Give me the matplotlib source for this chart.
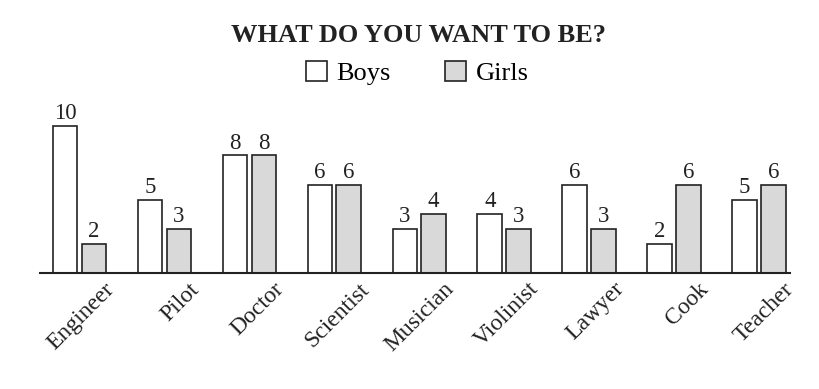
import numpy as np
import matplotlib.pyplot as plt
from matplotlib.transforms import ScaledTranslation

plt.rcParams['font.family'] = ['Liberation Serif', 'DejaVu Serif']

jobs = ['Engineer', 'Pilot', 'Doctor', 'Scientist', 'Musician',
        'Violinist', 'Lawyer', 'Cook', 'Teacher']
boys = [10, 5, 8, 6, 3, 4, 6, 2, 5]
girls = [2, 3, 8, 6, 4, 3, 3, 6, 6]

fig = plt.figure(figsize=(8.2, 3.89), dpi=100)
ax = fig.add_axes([0.0488, 0.298, 0.9142, 0.445])

x = np.arange(len(jobs))
w = 0.29
b1 = ax.bar(x - 0.17, boys, w, color='white', edgecolor='#222222', lw=1.2, label='Boys')
b2 = ax.bar(x + 0.17, girls, w, color='#d9d9d9', edgecolor='#222222', lw=1.2, label='Girls')

# значения над столбиками
for bars, vals in ((b1, boys), (b2, girls)):
    for r, v in zip(bars, vals):
        ax.text(r.get_x() + r.get_width() / 2, v + 0.12, str(v),
                ha='center', va='bottom', fontsize=16.5, color='#222222')

ax.set_xlim(-0.465, 8.36)
ax.set_ylim(0, 11.77)
for s in ['top', 'right', 'left']:
    ax.spines[s].set_visible(False)
ax.spines['bottom'].set_linewidth(1.5)
ax.spines['bottom'].set_color('#222222')
ax.set_yticks([])
ax.set_xticks(x)
ax.set_xticklabels(jobs, rotation=45, ha='right', va='top', rotation_mode='anchor',
                   fontsize=17, color='#222222')
ax.tick_params(axis='x', length=0, pad=4)
off = ScaledTranslation(0.24, 0, fig.dpi_scale_trans)
for lab in ax.get_xticklabels():
    lab.set_transform(lab.get_transform() + off)

fig.text(0.51, 0.91, 'WHAT DO YOU WANT TO BE?', ha='center', va='center',
         fontsize=19, fontweight='bold', color='#222222')
fig.legend(handles=[b1, b2], labels=['Boys', 'Girls'], loc='center',
           bbox_to_anchor=(0.509, 0.812), ncol=2, frameon=False, fontsize=19,
           handlelength=0.8, handleheight=0.8, handletextpad=0.35, columnspacing=2.05)

fig.savefig('out.png', dpi=100)
